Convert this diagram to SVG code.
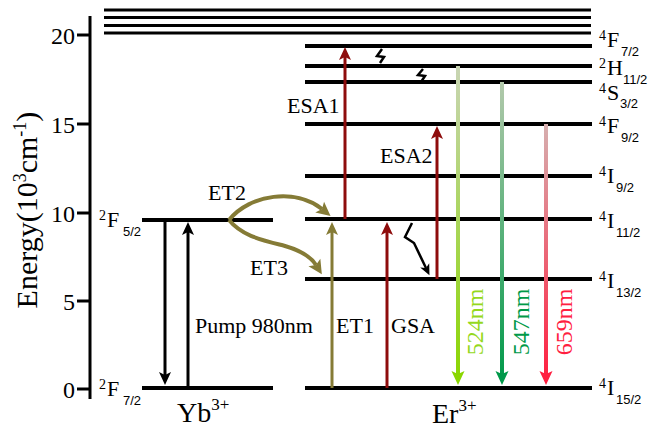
<svg xmlns="http://www.w3.org/2000/svg" width="652" height="432" viewBox="0 0 652 432">
<style>
  text { font-family: "Liberation Serif", "Times New Roman", serif; fill: #000; }
  .lvl { stroke: #000; stroke-width: 4; fill: none; }
  .top { stroke: #000; stroke-width: 3; fill: none; }
  .ax { stroke: #000; stroke-width: 3; fill: none; }
  .tk { font-size: 24px; text-anchor: end; }
  .lab { font-size: 22px; }
  .sup { font-size: 14px; }
  .sub { font-size: 13px; font-family: "Liberation Sans", Arial, sans-serif; }
  .k { stroke: #000; stroke-width: 3; fill: none; }
  .r { stroke: #8e0c0c; stroke-width: 3; fill: none; }
  .o { stroke: #857b36; stroke-width: 3; fill: none; }
  .oc { stroke: #857b36; stroke-width: 4; fill: none; }
  .zz { stroke: #000; stroke-width: 2.5; fill: none; stroke-linejoin: miter; }
  .em { stroke-width: 4; fill: none; }
</style>
<defs>
  <marker id="ak" viewBox="-4 -7 15 14" refX="0" refY="0" markerWidth="15" markerHeight="14" markerUnits="userSpaceOnUse" orient="auto"><path d="M10,0 L-3,-6 L0,0 L-3,6 Z" fill="#000"/></marker>
  <marker id="ar" viewBox="-4 -7 15 14" refX="0" refY="0" markerWidth="15" markerHeight="14" markerUnits="userSpaceOnUse" orient="auto"><path d="M10,0 L-3,-6 L0,0 L-3,6 Z" fill="#8e0c0c"/></marker>
  <marker id="ao" viewBox="-4 -7 15 14" refX="0" refY="0" markerWidth="15" markerHeight="14" markerUnits="userSpaceOnUse" orient="auto"><path d="M10,0 L-3,-6 L0,0 L-3,6 Z" fill="#857b36"/></marker>
  <marker id="ao2" viewBox="-4 -8 16 16" refX="0" refY="0" markerWidth="16" markerHeight="16" markerUnits="userSpaceOnUse" orient="auto"><path d="M11,0 L-3,-7 L0,0 L-3,7 Z" fill="#857b36"/></marker>
  <marker id="azz" viewBox="-4 -6 13 12" refX="0" refY="0" markerWidth="13" markerHeight="12" markerUnits="userSpaceOnUse" orient="auto"><path d="M8,0 L-3,-5 L0,0 L-3,5 Z" fill="#000"/></marker>
  <marker id="a524" viewBox="-4 -7 16 14" refX="0" refY="0" markerWidth="16" markerHeight="14" markerUnits="userSpaceOnUse" orient="auto"><path d="M11,0 L-3,-6.5 L0,0 L-3,6.5 Z" fill="#8ad600"/></marker>
  <marker id="a547" viewBox="-4 -7 16 14" refX="0" refY="0" markerWidth="16" markerHeight="14" markerUnits="userSpaceOnUse" orient="auto"><path d="M11,0 L-3,-6.5 L0,0 L-3,6.5 Z" fill="#00994a"/></marker>
  <marker id="a659" viewBox="-4 -7 16 14" refX="0" refY="0" markerWidth="16" markerHeight="14" markerUnits="userSpaceOnUse" orient="auto"><path d="M11,0 L-3,-6.5 L0,0 L-3,6.5 Z" fill="#ff1f40"/></marker>
  <linearGradient id="g524" gradientUnits="userSpaceOnUse" x1="0" y1="66" x2="0" y2="380"><stop offset="0" stop-color="#c9d5b5"/><stop offset="1" stop-color="#8ad600"/></linearGradient>
  <linearGradient id="g547" gradientUnits="userSpaceOnUse" x1="0" y1="82" x2="0" y2="380"><stop offset="0" stop-color="#b3c9ab"/><stop offset="1" stop-color="#00994a"/></linearGradient>
  <linearGradient id="g659" gradientUnits="userSpaceOnUse" x1="0" y1="124" x2="0" y2="380"><stop offset="0" stop-color="#d6afaf"/><stop offset="1" stop-color="#ff1f40"/></linearGradient>
</defs>

<g id="axis">
  <line class="ax" x1="90" y1="16" x2="90" y2="399"/>
  <line class="ax" x1="77" y1="35" x2="90" y2="35"/>
  <line class="ax" x1="77" y1="124" x2="90" y2="124"/>
  <line class="ax" x1="77" y1="213" x2="90" y2="213"/>
  <line class="ax" x1="77" y1="301" x2="90" y2="301"/>
  <line class="ax" x1="77" y1="389" x2="90" y2="389"/>
  <text class="tk" x="75" y="44">20</text>
  <text class="tk" x="75" y="133">15</text>
  <text class="tk" x="75" y="222">10</text>
  <text class="tk" x="75" y="310">5</text>
  <text class="tk" x="75" y="398">0</text>
  <text transform="translate(37,210) rotate(-90)" text-anchor="middle" font-size="30">Energy(10<tspan font-size="18" dy="-11">3</tspan><tspan dy="11">cm</tspan><tspan font-size="18" dy="-11">-1</tspan><tspan dy="11">)</tspan></text>
</g>

<g id="continuum">
  <line class="top" x1="104" y1="10" x2="591" y2="10"/>
  <line class="top" x1="104" y1="17.5" x2="591" y2="17.5"/>
  <line class="top" x1="104" y1="25.5" x2="591" y2="25.5"/>
  <line class="top" x1="104" y1="33" x2="591" y2="33"/>
</g>

<g id="yb-levels">
  <line class="lvl" x1="142" y1="220" x2="273" y2="220"/>
  <line class="lvl" x1="142" y1="388" x2="273" y2="388"/>
  <text class="sup" x="99" y="220">2</text><text class="lab" x="107" y="227">F</text><text class="sub" x="123" y="236">5/2</text>
  <text class="sup" x="99" y="389">2</text><text class="lab" x="107" y="396">F</text><text class="sub" x="123" y="405">7/2</text>
  <text x="177" y="422" font-size="28">Yb<tspan font-size="17" dy="-12">3+</tspan></text>
</g>

<g id="er-levels">
  <line class="lvl" x1="305" y1="46" x2="592" y2="46"/>
  <line class="lvl" x1="305" y1="66" x2="592" y2="66"/>
  <line class="lvl" x1="305" y1="82" x2="592" y2="82"/>
  <line class="lvl" x1="305" y1="124" x2="592" y2="124"/>
  <line class="lvl" x1="305" y1="176" x2="592" y2="176"/>
  <line class="lvl" x1="305" y1="219" x2="592" y2="219"/>
  <line class="lvl" x1="305" y1="279" x2="592" y2="279"/>
  <line class="lvl" x1="305" y1="388" x2="592" y2="388"/>
  <text class="sup" x="599" y="40">4</text><text class="lab" x="607" y="47">F</text><text class="sub" x="621" y="56">7/2</text>
  <text class="sup" x="599" y="68">2</text><text class="lab" x="607" y="75">H</text><text class="sub" x="623" y="84">11/2</text>
  <text class="sup" x="599" y="93">4</text><text class="lab" x="607" y="100">S</text><text class="sub" x="620" y="108">3/2</text>
  <text class="sup" x="599" y="126">4</text><text class="lab" x="607" y="133">F</text><text class="sub" x="621" y="142">9/2</text>
  <text class="sup" x="599" y="176">4</text><text class="lab" x="607" y="183">I</text><text class="sub" x="616" y="192">9/2</text>
  <text class="sup" x="599" y="221">4</text><text class="lab" x="607" y="228">I</text><text class="sub" x="616" y="237">11/2</text>
  <text class="sup" x="599" y="281">4</text><text class="lab" x="607" y="288">I</text><text class="sub" x="616" y="297">13/2</text>
  <text class="sup" x="599" y="388">4</text><text class="lab" x="607" y="395">I</text><text class="sub" x="616" y="404">15/2</text>
  <text x="432" y="423" font-size="28">Er<tspan font-size="17" dy="-12">3+</tspan></text>
</g>

<g id="connectors">
  <line class="k" x1="165" y1="220" x2="165" y2="375" marker-end="url(#ak)"/>
  <line class="k" x1="188" y1="388" x2="188" y2="232" marker-end="url(#ak)"/>
  <line class="o" x1="332" y1="388" x2="332" y2="232" marker-end="url(#ao)"/>
  <line class="r" x1="387" y1="388" x2="387" y2="232" marker-end="url(#ar)"/>
  <line class="r" x1="345" y1="219" x2="345" y2="57" marker-end="url(#ar)"/>
  <line class="r" x1="437" y1="279" x2="437" y2="136" marker-end="url(#ar)"/>
  <path class="oc" d="M229,220 C250,194 296,188 322,209" marker-end="url(#ao2)"/>
  <path class="oc" d="M229,220 C242,236 262,240 285,246 C302,251 311,257 316,265" marker-end="url(#ao2)"/>
  <path class="zz" d="M382,49 L377,56 L384,57 L380,63"/>
  <path class="zz" d="M423,69 L418,75 L425,76 L421,82"/>
  <path class="zz" d="M412,223 L405,237 L414,243 L426,268" marker-end="url(#azz)"/>
  <line class="em" stroke="url(#g524)" x1="458" y1="66" x2="458" y2="374" marker-end="url(#a524)"/>
  <line class="em" stroke="url(#g547)" x1="502" y1="82" x2="502" y2="374" marker-end="url(#a547)"/>
  <line class="em" stroke="url(#g659)" x1="546" y1="124" x2="546" y2="374" marker-end="url(#a659)"/>
</g>

<g id="labels">
  <text class="lab" x="287" y="113">ESA1</text>
  <text class="lab" x="380" y="163">ESA2</text>
  <text class="lab" x="208" y="200">ET2</text>
  <text class="lab" x="250" y="275">ET3</text>
  <text class="lab" x="195" y="333">Pump 980nm</text>
  <text class="lab" x="336" y="333">ET1</text>
  <text class="lab" x="391" y="333">GSA</text>
  <text transform="translate(483,322) rotate(-90)" text-anchor="middle" font-size="24" style="fill:#95d81c">524nm</text>
  <text transform="translate(529,322) rotate(-90)" text-anchor="middle" font-size="24" style="fill:#009a48">547nm</text>
  <text transform="translate(572,322) rotate(-90)" text-anchor="middle" font-size="24" style="fill:#ff2040">659nm</text>
</g>
</svg>
